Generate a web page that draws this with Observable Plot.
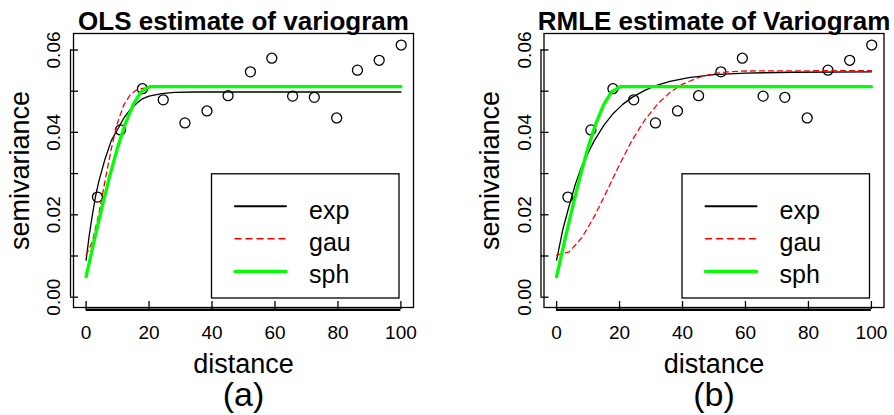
<!DOCTYPE html>
<html>
<head>
<meta charset="utf-8">
<script src="https://cdn.jsdelivr.net/npm/d3@7"></script>
<script src="https://cdn.jsdelivr.net/npm/@observablehq/plot@0.6"></script>
<style>
  html, body { margin: 0; padding: 0; background: #fff; }
  #wrap { display: flex; width: 894px; height: 415px; overflow: hidden; }
</style>
</head>
<body>
<div id="wrap"></div>
<script>
// ---- empirical variogram (same in both panels) ----
const distances    = [3.6, 10.9, 17.9, 24.5, 31.4, 38.4, 45.1, 52.2, 59.0, 65.6, 72.5, 79.6, 86.2, 93.1, 100.1];
const semivariance = [0.0243, 0.0406, 0.0506, 0.0479, 0.0423, 0.0452, 0.0489, 0.0547, 0.0580, 0.0488, 0.0485, 0.0435, 0.0551, 0.0575, 0.0612];

// ---- OLS fitted curves (panel a) ----
const olsExpX = [0, 1, 2, 3, 4, 6, 8, 10, 12, 14, 16, 18, 20, 24, 28, 35, 100];
const olsExpY = [0.0090, 0.0150, 0.0200, 0.0245, 0.0280, 0.0335, 0.0380, 0.0407, 0.0435, 0.0455, 0.0470, 0.0482, 0.0488, 0.0494, 0.0497, 0.0498, 0.0498];
const olsGauX = [0, 2, 4, 6, 8, 10, 12, 14, 16, 18, 20, 100];
const olsGauY = [0.0102, 0.0135, 0.0200, 0.0282, 0.0360, 0.0424, 0.0467, 0.0491, 0.0503, 0.0507, 0.0509, 0.0510];

// ---- RMLE fitted curves (panel b) ----
const rmlExpX = [0, 2, 4, 6, 8, 10, 12, 15, 18, 21, 24, 28, 32, 36, 42, 50, 60, 75, 100];
const rmlExpY = [0.0090, 0.0165, 0.0222, 0.0275, 0.0318, 0.0350, 0.0380, 0.0417, 0.0446, 0.0468, 0.0485, 0.0502, 0.0515, 0.0524, 0.0533, 0.0540, 0.0544, 0.0546, 0.0547];
const rmlGauX = [0, 4, 8, 12, 16, 20, 24, 28, 32, 36, 40, 45, 50, 55, 60, 100];
const rmlGauY = [0.0102, 0.0110, 0.0144, 0.0196, 0.0258, 0.0322, 0.0381, 0.0430, 0.0468, 0.0497, 0.0517, 0.0533, 0.0543, 0.0547, 0.0549, 0.0550];

// ---- spherical curve (same in both panels) ----
const sphX = [0, 2.5, 5, 7.5, 10, 12.5, 15, 17.5, 20.3, 100];
const sphY = [0.0050, 0.0135, 0.0217, 0.0294, 0.0363, 0.0422, 0.0468, 0.0499, 0.0511, 0.0511];

// ---- axes / labels ----
const xDomain = [-4, 104];
const yDomain = [-0.0025, 0.0640];
const xTicks = [0, 20, 40, 60, 80, 100];
const yTicks = [0, 0.01, 0.02, 0.03, 0.04, 0.05, 0.06];
const yTickLabels = [0, 0.02, 0.04, 0.06];
const xLabel = "distance";
const yLabel = "semivariance";
const legendNames = ["exp", "gau", "sph"];
const titles = ["OLS estimate of variogram", "RMLE estimate of Variogram"];
const tags = ["(a)", "(b)"];

const FONT = "'Liberation Sans', Arial, Helvetica, sans-serif";

function panel({title, tag, marginLeft, marginRight, expX, expY, gauX, gauY}) {
  const W = 447, H = 415, mt = 33, mb = 108;
  const fw = W - marginLeft - marginRight, fh = H - mt - mb;
  const rows = (xs, ys) => xs.map((x, i) => ({x, y: ys[i]}));
  const curveStyles = [
    {stroke: "black", strokeWidth: 1.3},
    {stroke: "red", strokeWidth: 1.3, strokeDasharray: "5,4"},
    {stroke: "#00ff00", strokeWidth: 3.3}
  ];
  const legendStyles = [
    {stroke: "black", strokeWidth: 2},
    {stroke: "red", strokeWidth: 1.5, strokeDasharray: "6,5"},
    {stroke: "#00ff00", strokeWidth: 3.3}
  ];
  const curves = [rows(expX, expY), rows(gauX, gauY), rows(sphX, sphY)];
  const lineShape = {draw(ctx, l) { ctx.moveTo(0, 0); ctx.lineTo(0, -l); }};
  const T = {fill: "black", lineAnchor: "middle"};

  const marks = [
    Plot.dot(rows(distances, semivariance), {x: "x", y: "y", r: 5, stroke: "black", strokeWidth: 1.3, fill: "none"}),
    ...curves.map((d, i) => Plot.line(d, {x: "x", y: "y", ...curveStyles[i]})),
    Plot.frame({stroke: "black", strokeWidth: 1.3}),
    // y axis (line offset left, ticks pointing inward)
    Plot.ruleX([xDomain[0]], {y1: yTicks[0], y2: yTicks[yTicks.length - 1], dx: -3, stroke: "black", strokeWidth: 1.3}),
    Plot.tickY(yTicks, {y: d => d, dx: -3, insetRight: fw - 8, stroke: "black", strokeWidth: 1.3}),
    Plot.text(yTickLabels, {y: d => d, text: d => d.toFixed(2), frameAnchor: "left", dx: -19.5, rotate: -90, textAnchor: "middle", fontSize: 19, ...T}),
    // x axis (thick line, ticks pointing inward)
    Plot.ruleY([yDomain[0]], {x1: xTicks[0], x2: xTicks[xTicks.length - 1], dy: 2.3, stroke: "black", strokeWidth: 2.6}),
    Plot.tickX(xTicks, {x: d => d, insetTop: fh - 8, dy: 2, stroke: "black", strokeWidth: 1.3}),
    Plot.text(xTicks, {x: d => d, text: d => String(d), frameAnchor: "bottom", dy: 25, textAnchor: "middle", fontSize: 19, ...T}),
    // axis titles, main title, tag
    Plot.text([xLabel], {text: d => d, frameAnchor: "bottom", dy: 57, textAnchor: "middle", fontSize: 27, ...T}),
    Plot.text([yLabel], {text: d => d, frameAnchor: "left", dx: -53.3, rotate: -90, textAnchor: "middle", fontSize: 27, ...T}),
    Plot.text([title], {text: d => d, frameAnchor: "top", dy: -11.5, textAnchor: "middle", fontSize: 26, fontWeight: "bold", ...T}),
    Plot.text([tag], {text: d => d, frameAnchor: "bottom", dy: 88, textAnchor: "middle", fontSize: 34, ...T}),
    // legend box
    Plot.frame({fill: "white", stroke: "black", strokeWidth: 1.3, insetLeft: 138, insetRight: 14.5, insetTop: 140.3, insetBottom: 9.5}),
    ...legendNames.map((name, i) => Plot.vector([name], {
      frameAnchor: "top-left", dx: 161.5, dy: 172.7 + 32.6 * i,
      length: 51, rotate: 90, anchor: "start", shape: lineShape, ...legendStyles[i]
    })),
    ...legendNames.map((name, i) => Plot.text([name], {
      text: d => d, frameAnchor: "top-left", dx: 235.5, dy: 177.3 + 32.3 * i,
      textAnchor: "start", fontSize: 25, ...T
    }))
  ];

  return Plot.plot({
    width: W, height: H,
    marginLeft, marginRight, marginTop: mt, marginBottom: mb,
    x: {domain: xDomain, axis: null},
    y: {domain: yDomain, axis: null},
    style: {fontFamily: FONT, background: "white", color: "black", overflow: "hidden"},
    marks
  });
}

const wrap = document.getElementById("wrap");
wrap.appendChild(panel({title: titles[0], tag: tags[0], marginLeft: 73, marginRight: 34,
  expX: olsExpX, expY: olsExpY, gauX: olsGauX, gauY: olsGauY}));
wrap.appendChild(panel({title: titles[1], tag: tags[1], marginLeft: 96.5, marginRight: 10.5,
  expX: rmlExpX, expY: rmlExpY, gauX: rmlGauX, gauY: rmlGauY}));
</script>
</body>
</html>
